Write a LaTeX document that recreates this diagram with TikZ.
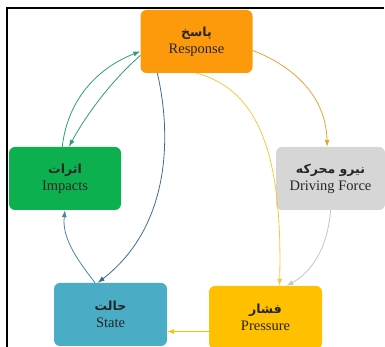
\documentclass[tikz,border=0pt]{standalone}
\usepackage{fontspec}
\setmainfont{Liberation Serif}
\newfontfamily\farsi[Script=Arabic]{DejaVu Sans}
\TeXXeTstate=1
\usepackage{xcolor}
\usepackage{tikz}
\usetikzlibrary{arrows.meta, calc}

\definecolor{respcol}{HTML}{FD9A0B}
\definecolor{drivecol}{HTML}{D6D6D6}
\definecolor{impcol}{HTML}{0DB04F}
\definecolor{statecol}{HTML}{4BACC6}
\definecolor{presscol}{HTML}{FFC000}
\definecolor{orangelink}{HTML}{E9A23B}
\definecolor{graylink}{HTML}{C4C4CA}
\definecolor{yellowlink}{HTML}{F5C842}
\definecolor{navylink}{HTML}{3E6B8E}
\definecolor{bluelink}{HTML}{4B84A6}
\definecolor{greenlink}{HTML}{2E9C74}
\newcommand{\twolines}[2]{{\farsi\bfseries\fontsize{12.5}{14}\selectfont\beginR #1\endR}\\[0pt] #2}

\begin{document}
\begin{tikzpicture}[x=1pt, y=1pt,
    box/.style={rounded corners=6pt, minimum width=112pt, minimum height=63pt, align=center, inner sep=2pt, font=\fontsize{14.5}{17}\selectfont, text=black!85},
    link/.style={line width=0.8pt, -{Latex[length=7pt,width=5pt]}}]
    \useasboundingbox (0,0) rectangle (385,347);
    \draw[line width=2pt] (7,0) -- (7,339) -- (384,339);

    \node[box, fill=respcol] (resp) at (196.5,305.5) {\twolines{پاسخ}{Response}};
    \node[box, fill=drivecol, minimum width=109pt] (drive) at (330.5,168.5) {\twolines{نیرو محرکه}{Driving Force}};
    \node[box, fill=impcol] (imp) at (65,168.5) {\twolines{اثرات}{Impacts}};
    \node[box, fill=statecol, minimum width=113pt] (state) at (110.5,32.5) {\twolines{حالت}{State}};
    \node[box, fill=presscol, minimum width=113pt] (press) at (265.5,29.5) {\twolines{فشار}{Pressure}};

    \draw[link, color=orangelink] (resp.-9) .. controls (295,280) and (326,250) .. (drive.96);
    \draw[link, color=graylink] (drive.south) .. controls (328,100) and (312,75) .. ($(press.north)+(21,0)$);
    \draw[link, color=yellowlink] (resp.south) .. controls (255,258) and (283,200) .. ($(press.north)+(14,0)$);
    \draw[link, color=presscol] ([yshift=-14pt]press.west) -- ([yshift=-17pt]state.east);
    \draw[link, color=navylink] (resp.-141) .. controls (172,210) and (170,120) .. (state.112);
    \draw[link, color=bluelink] (state.116) .. controls (75,90) and (62,110) .. (imp.south);
    \draw[link, color=greenlink] (imp.95) .. controls (68,250) and (100,280) .. (resp.190);
    \draw[link, color=greenlink] (resp.194) .. controls (110,265) and (85,230) .. (imp.83);
\end{tikzpicture}
\end{document}
